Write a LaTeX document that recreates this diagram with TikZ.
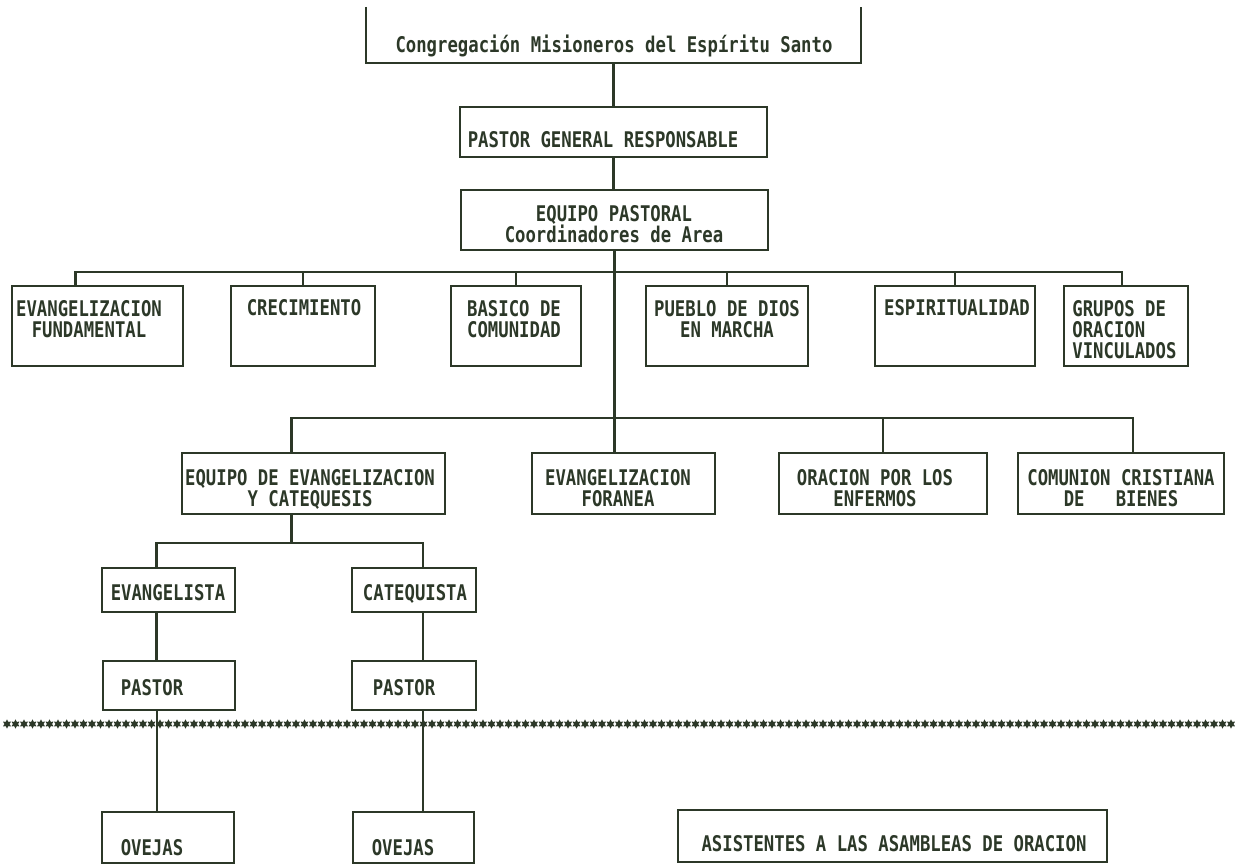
\documentclass[tikz,border=0pt]{standalone}
\usepackage{fontspec}
\usepackage{graphicx}
\usetikzlibrary{shapes.geometric}
\newfontfamily\orgmono{DejaVu Sans Mono}
\definecolor{ink}{RGB}{44,56,40}
\newcommand{\orgline}[1]{\scalebox{1}[1.25]{#1}}

\tikzset{
  orgbox/.style={draw=ink, line width=1.1pt, inner sep=0pt},
  orgtext/.style={text=ink, inner sep=0pt, align=center,
    font=\orgmono\bfseries\fontsize{8.64}{10.5}\selectfont},
  wire/.style={draw=ink, line width=1.1pt},
  starmark/.style={star, star points=6, star point ratio=1.8, fill=ink,
    inner sep=0pt, minimum size=4.6pt},
}

\begin{document}
\begin{tikzpicture}[x=0.5pt,y=-0.5pt]
  \useasboundingbox (0,0) rectangle (1235,865);

  % row of stars
  \foreach \i in {0,...,144}
    \node[starmark] (s\i) at ({7+8.5*\i},724) {};

  % top
  \node[orgbox,draw=none,minimum width=246.5pt,minimum height=27pt] (cms) at (613.5,35) {};
  \draw[wire] (cms.north west) -- (cms.south west) -- (cms.south east) -- (cms.north east);
  \node[orgbox,minimum width=153.5pt,minimum height=25pt] (pgr) at (613.5,132) {};
  \node[orgbox,minimum width=153.5pt,minimum height=30pt] (ep) at (614.5,220) {};

  % areas
  \node[orgbox,minimum width=85.5pt,minimum height=40pt] (ef) at (97.5,326) {};
  \node[orgbox,minimum width=72pt,minimum height=40pt] (cr) at (303,326) {};
  \node[orgbox,minimum width=65pt,minimum height=40pt] (ba) at (516,326) {};
  \node[orgbox,minimum width=81pt,minimum height=40pt] (pu) at (727,326) {};
  \node[orgbox,minimum width=80pt,minimum height=40pt] (es) at (955,326) {};
  \node[orgbox,minimum width=62pt,minimum height=40pt] (gr) at (1126,326) {};

  % ministries
  \node[orgbox,minimum width=131.5pt,minimum height=30.5pt] (eq) at (313.5,483.5) {};
  \node[orgbox,minimum width=91.5pt,minimum height=30.5pt] (fo) at (623.5,483.5) {};
  \node[orgbox,minimum width=104pt,minimum height=30.5pt] (or) at (883,483.5) {};
  \node[orgbox,minimum width=103pt,minimum height=30.5pt] (cc) at (1121,483.5) {};

  \node[orgbox,minimum width=66.5pt,minimum height=22pt] (ev) at (168.5,590) {};
  \node[orgbox,minimum width=62pt,minimum height=22pt] (ca) at (414,590) {};
  \node[orgbox,minimum width=66pt,minimum height=24.5pt] (pa1) at (169,685.5) {};
  \node[orgbox,minimum width=62pt,minimum height=24.5pt] (pa2) at (414,685.5) {};
  \node[orgbox,minimum width=66pt,minimum height=25.5pt] (ov1) at (168,837.5) {};
  \node[orgbox,minimum width=60.5pt,minimum height=25.5pt] (ov2) at (413.5,837.5) {};
  \node[orgbox,minimum width=214.5pt,minimum height=26pt] (as) at (892.5,836) {};

  % texts
  \node[orgtext,anchor=base] (cms-t) at (614,53) {\orgline{Congregación Misioneros del Espíritu Santo}};
  \node[orgtext,anchor=base] (pgr-t) at (603,148) {\orgline{PASTOR GENERAL RESPONSABLE}};
  \node[orgtext,anchor=north] (ep-t) at (614,205) {\orgline{EQUIPO PASTORAL}\\\orgline{Coordinadores de Area}};
  \node[orgtext,anchor=north] (ef-t) at (89,300) {\orgline{EVANGELIZACION}\\\orgline{FUNDAMENTAL}};
  \node[orgtext,anchor=base] (cr-t) at (304,316) {\orgline{CRECIMIENTO}};
  \node[orgtext,anchor=north] (ba-t) at (514,300) {\orgline{BASICO DE}\\\orgline{COMUNIDAD}};
  \node[orgtext,anchor=north] (pu-t) at (727,300) {\orgline{PUEBLO DE DIOS}\\\orgline{EN MARCHA}};
  \node[orgtext,anchor=base] (es-t) at (957,316) {\orgline{ESPIRITUALIDAD}};
  \node[orgtext,anchor=north west,align=left] (gr-t) at (1072,300) {\orgline{GRUPOS DE}\\\orgline{ORACION}\\\orgline{VINCULADOS}};
  \node[orgtext,anchor=north] (eq-t) at (310,469) {\orgline{EQUIPO DE EVANGELIZACION}\\\orgline{Y CATEQUESIS}};
  \node[orgtext,anchor=north] (fo-t) at (618,469) {\orgline{EVANGELIZACION}\\\orgline{FORANEA}};
  \node[orgtext,anchor=north] (or-t) at (875,469) {\orgline{ORACION POR LOS}\\\orgline{ENFERMOS}};
  \node[orgtext,anchor=north] (cc-t) at (1121,469) {\orgline{COMUNION CRISTIANA}\\\orgline{DE\ \ \ BIENES}};
  \node[orgtext,anchor=base] (ev-t) at (168,600) {\orgline{EVANGELISTA}};
  \node[orgtext,anchor=base] (ca-t) at (415,600) {\orgline{CATEQUISTA}};
  \node[orgtext,anchor=base] (pa1-t) at (152,695) {\orgline{PASTOR}};
  \node[orgtext,anchor=base] (pa2-t) at (404,695) {\orgline{PASTOR}};
  \node[orgtext,anchor=base] (ov1-t) at (152,855) {\orgline{OVEJAS}};
  \node[orgtext,anchor=base] (ov2-t) at (403,855) {\orgline{OVEJAS}};
  \node[orgtext,anchor=base] (as-t) at (894,851) {\orgline{ASISTENTES A LAS ASAMBLEAS DE ORACION}};

  % connectors
  \coordinate (b1) at (614,272);
  \coordinate (b2) at (614,418);
  \coordinate (b3) at (291,543);
  \draw[wire] (cms.south) -- (pgr.north);
  \draw[wire] (pgr.south) -- (pgr.south |- ep.north);
  \draw[wire] (ep.south) -- (ep.south |- fo.north);
  \draw[wire] ([xshift=-11pt]ef.north) |- (b1) -| ([xshift=-2pt]gr.north);
  \foreach \n in {cr,ba,pu,es}
    \draw[wire] (\n.north) -- (\n.north |- b1);
  \draw[wire] ([xshift=-11pt]eq.north) |- (b2) -| ([xshift=6pt]cc.north);
  \draw[wire] (or.north) -- (or.north |- b2);
  \draw[wire] ([xshift=-11pt]eq.south) -- ([xshift=-11pt]eq.south |- b3);
  \draw[wire] ([xshift=-6pt]ev.north) |- (b3) -| ([xshift=4.5pt]ca.north);
  \draw[wire] ([xshift=-6pt]ev.south) -- ([xshift=-6pt]ev.south |- pa1.north);
  \draw[wire] ([xshift=4.5pt]ca.south) -- ([xshift=4.5pt]ca.south |- pa2.north);
  \draw[wire] ([xshift=-6pt]pa1.south) -- ([xshift=-6pt]pa1.south |- ov1.north);
  \draw[wire] ([xshift=4.5pt]pa2.south) -- ([xshift=4.5pt]pa2.south |- ov2.north);
\end{tikzpicture}
\end{document}
